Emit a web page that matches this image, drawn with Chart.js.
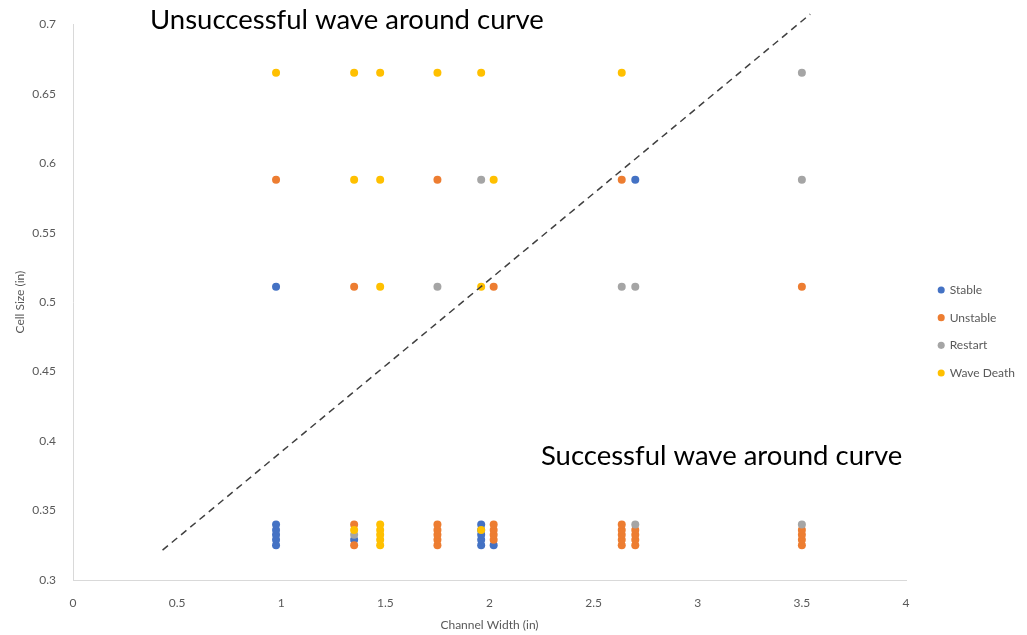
<!DOCTYPE html>
<html><head><meta charset="utf-8">
<script src="https://cdn.jsdelivr.net/npm/chart.js@4"></script>
<style>html,body{margin:0;padding:0;background:#fff}#wrap{width:1027px;height:635px;position:relative}</style>
</head><body><div id="wrap"><canvas id="c" width="1027" height="635"></canvas></div>
<script>
const seriesNames = ['Stable', 'Unstable', 'Restart', 'Wave Death'];
const seriesColors = ['#4472C4', '#ED7D31', '#A5A5A5', '#FFC000'];

const stableX = [0.975, 2.7, 0.975, 0.975, 0.975, 0.975, 0.975, 1.35, 1.96, 1.96, 1.96, 1.96, 1.96, 2.02];
const stableY = [0.511, 0.588, 0.325, 0.329, 0.3325, 0.336, 0.34, 0.329, 0.325, 0.329, 0.3325, 0.336, 0.34, 0.325];

const unstableX = [0.975, 1.75, 2.635, 1.35, 2.02, 3.5, 1.35, 1.35,
  1.75, 1.75, 1.75, 1.75, 1.75, 2.02, 2.02, 2.02, 2.02,
  2.635, 2.635, 2.635, 2.635, 2.635, 2.7, 2.7, 2.7, 2.7, 3.5, 3.5, 3.5, 3.5];
const unstableY = [0.588, 0.588, 0.588, 0.511, 0.511, 0.511, 0.325, 0.34,
  0.325, 0.329, 0.3325, 0.336, 0.34, 0.329, 0.3325, 0.336, 0.34,
  0.325, 0.329, 0.3325, 0.336, 0.34, 0.325, 0.329, 0.3325, 0.336, 0.325, 0.329, 0.3325, 0.336];

const restartX = [3.5, 1.96, 3.5, 1.75, 2.635, 2.7, 1.35, 2.7, 3.5];
const restartY = [0.665, 0.588, 0.588, 0.511, 0.511, 0.511, 0.3325, 0.34, 0.34];

const waveDeathX = [0.975, 1.35, 1.475, 1.75, 1.96, 2.635, 1.35, 1.475, 2.02, 1.475, 1.96, 1.35,
  1.475, 1.475, 1.475, 1.475, 1.475, 1.96];
const waveDeathY = [0.665, 0.665, 0.665, 0.665, 0.665, 0.665, 0.588, 0.588, 0.588, 0.511, 0.511, 0.336,
  0.325, 0.329, 0.3325, 0.336, 0.34, 0.336];

const boundaryX = [0.43, 3.54];
const boundaryY = [0.3215, 0.7072];

const xTicks = [0, 0.5, 1, 1.5, 2, 2.5, 3, 3.5, 4];
const xTickLabels = ['0', '0.5', '1', '1.5', '2', '2.5', '3', '3.5', '4'];
const yTicks = [0.3, 0.35, 0.4, 0.45, 0.5, 0.55, 0.6, 0.65, 0.7];
const yTickLabels = ['0.3', '0.35', '0.4', '0.45', '0.5', '0.55', '0.6', '0.65', '0.7'];

const noteTexts = ['Unsuccessful wave around curve', 'Successful wave around curve'];
const noteX = [0.37, 2.247];
const noteY = [0.6962, 0.3827];

const xTitle = 'Channel Width (in)';
const yTitle = 'Cell Size (in)';

function pts(xs, ys) { return xs.map((x, i) => ({ x: x, y: ys[i] })); }

const allX = [stableX, unstableX, restartX, waveDeathX];
const allY = [stableY, unstableY, restartY, waveDeathY];

const datasets = seriesNames.map((name, i) => ({
  label: name,
  data: pts(allX[i], allY[i]),
  backgroundColor: seriesColors[i],
  borderColor: seriesColors[i],
  borderWidth: 0,
  pointRadius: 4,
  pointHoverRadius: 4,
  pointStyle: 'circle',
  order: 4 - i
}));
datasets.push({
  label: 'boundary',
  type: 'line',
  data: pts(boundaryX, boundaryY),
  borderColor: '#404040',
  borderWidth: 1.5,
  borderDash: [7, 5],
  pointRadius: 0,
  fill: false,
  clip: false,
  order: 0
});

const FONT = 'Lato, "Open Sans", sans-serif';

const layoutFix = {
  id: 'layoutFix',
  afterInit(chart) {
    const lg = chart.legend;
    const orig = lg.fit.bind(lg);
    lg.fit = function () { orig(); this.width = 121; };
  },
  afterLayout(chart) {
    const lg = chart.legend;
    const dx = 17, dy = 2;
    lg.left += dx; lg.right += dx;
    lg.top += dy; lg.bottom += dy;
  }
};

const notes = {
  id: 'notes',
  afterDraw(chart) {
    const ctx = chart.ctx;
    const xs = chart.scales.x, ys = chart.scales.y;
    ctx.save();
    ctx.fillStyle = '#000000';
    ctx.font = '27.5px ' + FONT;
    ctx.textBaseline = 'alphabetic';
    ctx.textAlign = 'left';
    noteTexts.forEach((t, i) => {
      ctx.fillText(t, xs.getPixelForValue(noteX[i]), ys.getPixelForValue(noteY[i]));
    });
    ctx.restore();
  }
};

new Chart(document.getElementById('c'), {
  type: 'scatter',
  data: { datasets: datasets },
  options: {
    responsive: false,
    animation: false,
    layout: { padding: { top: 24, left: 0, right: 0, bottom: 0 } },
    plugins: {
      tooltip: { enabled: false },
      legend: {
        position: 'right',
        align: 'center',
        labels: {
          usePointStyle: true,
          boxWidth: 5,
          boxHeight: 5,
          padding: 15.7,
          color: '#595959',
          font: { family: FONT, size: 12 },
          filter: (item) => item.text !== 'boundary',
          sort: (a, b) => a.datasetIndex - b.datasetIndex
        }
      }
    },
    scales: {
      x: {
        type: 'linear',
        min: 0, max: 4,
        afterBuildTicks: (s) => { s.ticks = xTicks.map(v => ({ value: v })); },
        afterFit: (s) => { s.height = 55; },
        ticks: {
          callback: (v, i) => xTickLabels[i],
          color: '#595959',
          font: { family: FONT, size: 12 },
          padding: 16,
          maxRotation: 0
        },
        grid: { display: false, drawTicks: false },
        border: { color: '#D9D9D9', width: 1 },
        title: {
          display: true, text: xTitle, color: '#595959',
          font: { family: FONT, size: 12 },
          padding: { top: 0, bottom: 3 }
        }
      },
      y: {
        type: 'linear',
        min: 0.3, max: 0.7,
        afterBuildTicks: (s) => { s.ticks = yTicks.map(v => ({ value: v })); },
        afterFit: (s) => { s.width = 73; },
        ticks: {
          callback: (v, i) => yTickLabels[i],
          color: '#595959',
          font: { family: FONT, size: 12 },
          padding: 17
        },
        grid: { display: false, drawTicks: false },
        border: { color: '#D9D9D9', width: 1 },
        title: {
          display: true, text: yTitle, color: '#595959',
          font: { family: FONT, size: 12 },
          padding: { top: 13, bottom: 0 }
        }
      }
    }
  },
  plugins: [layoutFix, notes]
});
</script>
</body></html>
